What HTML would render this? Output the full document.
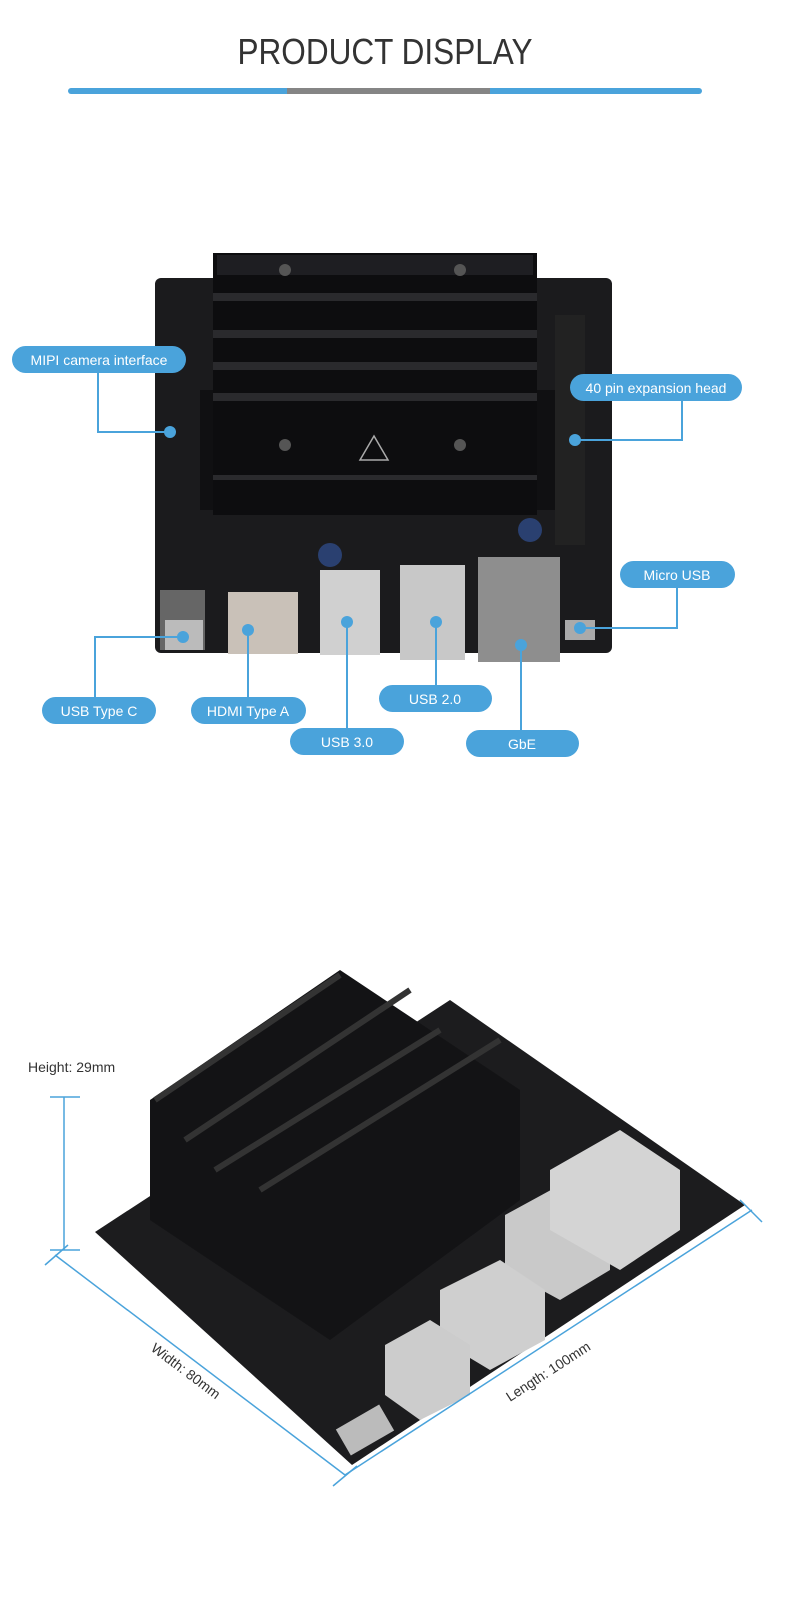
<!DOCTYPE html>
<html><head><meta charset="utf-8"><style>
body{margin:0;background:#fff;width:790px;height:1613px;overflow:hidden;font-family:"Liberation Sans",sans-serif}
</style></head><body>
<svg width="790" height="1613" viewBox="0 0 790 1613" xmlns="http://www.w3.org/2000/svg" font-family="Liberation Sans, sans-serif">
<text x="385" y="64" text-anchor="middle" font-size="36" fill="#333" textLength="295" lengthAdjust="spacingAndGlyphs">PRODUCT DISPLAY</text>
<rect x="68" y="88" width="634" height="6" rx="3" fill="#4aa3db"/>
<rect x="287" y="88" width="203" height="6" fill="#858585"/>

<!-- board 1 -->
<rect x="155" y="278" width="457" height="375" rx="6" fill="#1b1b1d"/>
<rect x="200" y="390" width="355" height="120" fill="#101012"/>
<rect x="213" y="253" width="324" height="262" fill="#0d0d0f"/>
<g fill="#2a2a2d"><rect x="213" y="293" width="324" height="8"/><rect x="213" y="330" width="324" height="8"/><rect x="213" y="362" width="324" height="8"/><rect x="213" y="393" width="324" height="8"/><rect x="213" y="475" width="324" height="5"/></g>
<rect x="217" y="255" width="316" height="20" fill="#1e1e22"/>
<circle cx="285" cy="270" r="6" fill="#555"/><circle cx="460" cy="270" r="6" fill="#555"/>
<circle cx="285" cy="445" r="6" fill="#555"/><circle cx="460" cy="445" r="6" fill="#555"/>
<path d="M360 460 L374 436 L388 460 Z" fill="none" stroke="#aaa" stroke-width="1.5"/>
<rect x="555" y="315" width="30" height="230" fill="#222"/>
<g fill="#666"><rect x="160" y="590" width="45" height="60"/></g>
<rect x="165" y="620" width="38" height="30" fill="#bbb"/>
<rect x="228" y="592" width="70" height="62" fill="#c9c1b8"/>
<rect x="320" y="570" width="60" height="85" fill="#d0d0d0"/>
<rect x="400" y="565" width="65" height="95" fill="#c8c8c8"/>
<rect x="478" y="557" width="82" height="105" fill="#8e8e8e"/>
<rect x="565" y="620" width="30" height="20" fill="#aaa"/>
<circle cx="330" cy="555" r="12" fill="#2a4070"/><circle cx="530" cy="530" r="12" fill="#2a4070"/>

<g stroke="#4aa3db" stroke-width="2" fill="none">
<path d="M98 373 V432 H170"/><path d="M682 400 V440 H575"/><path d="M677 587 V628 H580"/>
<path d="M95 697 V637 H183"/><path d="M248 697 V630"/><path d="M347 728 V622"/><path d="M436 685 V622"/><path d="M521 730 V645"/>
</g>
<g fill="#4aa3db"><circle cx="170" cy="432" r="6"/><circle cx="575" cy="440" r="6"/><circle cx="580" cy="628" r="6"/><circle cx="183" cy="637" r="6"/><circle cx="248" cy="630" r="6"/><circle cx="347" cy="622" r="6"/><circle cx="436" cy="622" r="6"/><circle cx="521" cy="645" r="6"/>
<rect x="12" y="346" width="174" height="27" rx="13.5"/>
<rect x="570" y="374" width="172" height="27" rx="13.5"/>
<rect x="620" y="561" width="115" height="27" rx="13.5"/>
<rect x="42" y="697" width="114" height="27" rx="13.5"/>
<rect x="191" y="697" width="115" height="27" rx="13.5"/>
<rect x="290" y="728" width="114" height="27" rx="13.5"/>
<rect x="379" y="685" width="113" height="27" rx="13.5"/>
<rect x="466" y="730" width="113" height="27" rx="13.5"/></g>
<g fill="#fff" font-size="14" text-anchor="middle">
<text x="99" y="365">MIPI camera interface</text><text x="656" y="393">40 pin expansion head</text>
<text x="677" y="580">Micro USB</text><text x="99" y="716">USB Type C</text><text x="248" y="716">HDMI Type A</text>
<text x="347" y="747">USB 3.0</text><text x="435" y="704">USB 2.0</text><text x="522" y="749">GbE</text></g>

<!-- board 2 -->
<polygon points="95,1232 450,1000 745,1205 352,1465" fill="#1c1c1e"/>
<polygon points="150,1100 340,970 520,1090 520,1200 330,1340 150,1220" fill="#131315"/>
<g stroke="#333" stroke-width="6"><line x1="155" y1="1100" x2="340" y2="975"/><line x1="185" y1="1140" x2="410" y2="990"/><line x1="215" y1="1170" x2="440" y2="1030"/><line x1="260" y1="1190" x2="500" y2="1040"/></g>
<polygon points="505,1215 560,1185 610,1215 610,1270 560,1300 505,1270" fill="#c9c9c9"/>
<polygon points="550,1170 620,1130 680,1170 680,1230 620,1270 550,1230" fill="#d4d4d4"/>
<polygon points="440,1290 500,1260 545,1290 545,1340 490,1370 440,1340" fill="#cfcfcf"/>
<polygon points="385,1345 430,1320 470,1345 470,1395 420,1420 385,1395" fill="#ccc"/>
<rect x="340" y="1415" width="50" height="30" fill="#bbb" transform="rotate(-30 365 1430)"/>
<g stroke="#4aa3db" stroke-width="1.5" fill="none">
<line x1="64" y1="1097" x2="64" y2="1250"/><line x1="50" y1="1097" x2="80" y2="1097"/><line x1="50" y1="1250" x2="80" y2="1250"/>
<line x1="55" y1="1255" x2="345" y2="1475"/><line x1="345" y1="1475" x2="752" y2="1210"/>
<line x1="45" y1="1265" x2="68" y2="1245"/><line x1="333" y1="1486" x2="357" y2="1466"/><line x1="740" y1="1200" x2="762" y2="1222"/>
</g>
<text x="28" y="1072" font-size="14" fill="#333">Height: 29mm</text>
<text x="0" y="0" font-size="14" fill="#333" transform="translate(150 1350) rotate(37)">Width: 80mm</text>
<text x="0" y="0" font-size="14" fill="#333" transform="translate(510 1402) rotate(-33)">Length: 100mm</text>
</svg>
</body></html>
